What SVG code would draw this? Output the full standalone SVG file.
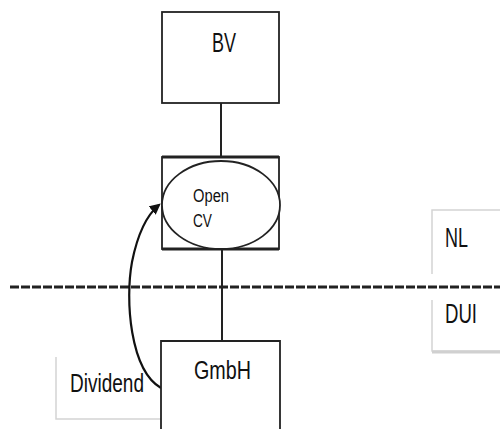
<svg xmlns="http://www.w3.org/2000/svg" width="500" height="429" viewBox="0 0 500 429">
<defs>
<style>
.box{fill:#fff;stroke:#222;stroke-width:1.8}
.lbox{fill:none;stroke:#d4d4d4;stroke-width:1.5}
.t{font-family:"Liberation Sans",Arial,sans-serif;fill:#111}
.ln{stroke:#222;stroke-width:2;fill:none}
</style>
<marker id="ah" viewBox="0 0 10 10" refX="8" refY="5" markerWidth="5" markerHeight="5" orient="auto" markerUnits="strokeWidth">
<path d="M0,0 L10,5 L0,10 z" fill="#111"/>
</marker>
</defs>
<rect width="500" height="429" fill="#fff"/>
<g id="country">
<path class="lbox" d="M432,274 V210 H500 M432,300 V351 H500"/>
<line x1="432" y1="352" x2="500" y2="352" stroke="#d0d0d0" stroke-width="3"/>
<text class="t" x="445" y="247" font-size="27" textLength="23" lengthAdjust="spacingAndGlyphs">NL</text>
<text class="t" x="445" y="323" font-size="27" textLength="32" lengthAdjust="spacingAndGlyphs">DUI</text>
</g>
<g id="dividend-label">
<path class="lbox" d="M56,357 V419 H161"/>
<text class="t" x="70" y="392" font-size="26" textLength="74" lengthAdjust="spacingAndGlyphs">Dividend</text>
</g>
<g id="connectors">
<line class="ln" x1="221" y1="103" x2="221" y2="158"/>
<line class="ln" x1="222" y1="249" x2="222" y2="341"/>
<line x1="10" y1="287" x2="500" y2="287" stroke="#222" stroke-width="3" stroke-dasharray="9,2"/>
<path d="M161,388 C130,370 125,300 132,262 C138,232 148,214 159,205" fill="none" stroke="#111" stroke-width="2.2" marker-end="url(#ah)"/>
</g>
<g id="bv">
<rect class="box" x="162" y="12" width="117" height="91"/>
<text class="t" x="212" y="52" font-size="28" textLength="24" lengthAdjust="spacingAndGlyphs">BV</text>
</g>
<g id="opencv">
<rect class="box" x="162" y="157" width="117" height="92"/>
<line x1="162" y1="157" x2="279" y2="157" stroke="#222" stroke-width="3"/>
<line x1="162" y1="249" x2="279" y2="249" stroke="#222" stroke-width="3"/>
<ellipse cx="221" cy="205" rx="59" ry="44" fill="#fff" stroke="#222" stroke-width="1.8"/>
<text class="t" x="193" y="202" font-size="18" textLength="36" lengthAdjust="spacingAndGlyphs">Open</text>
<text class="t" x="193" y="227" font-size="18" textLength="19" lengthAdjust="spacingAndGlyphs">CV</text>
</g>
<g id="gmbh">
<path class="box" d="M161,430 V341 H280 V430"/>
<text class="t" x="194" y="379" font-size="25" textLength="57" lengthAdjust="spacingAndGlyphs">GmbH</text>
</g>
</svg>
